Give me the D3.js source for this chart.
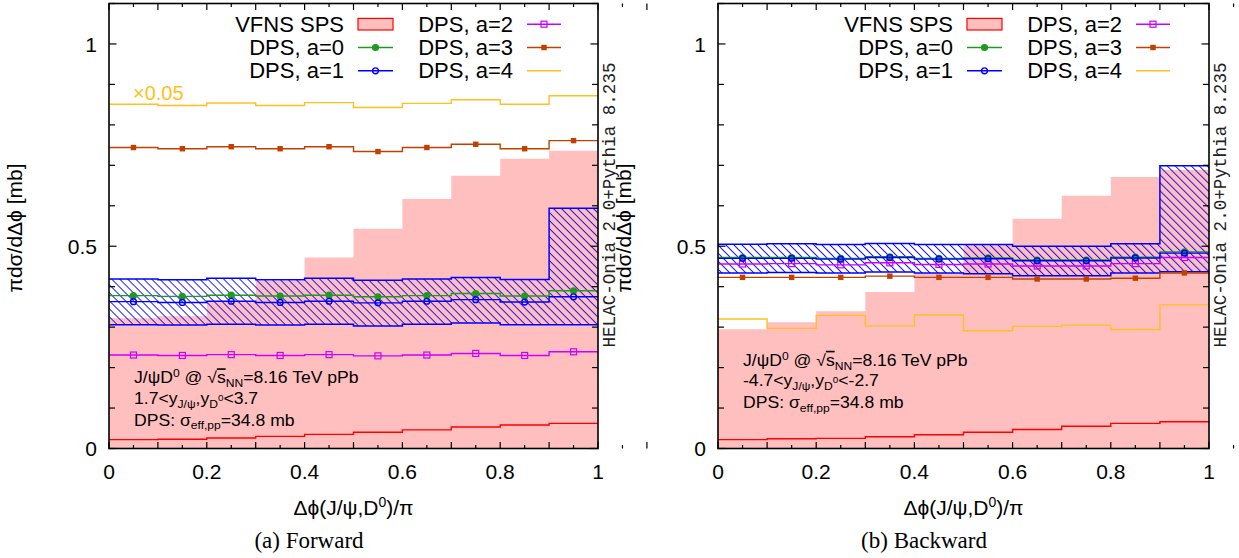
<!DOCTYPE html>
<html><head><meta charset="utf-8">
<script src="https://cdn.jsdelivr.net/npm/d3@7"></script>
<style>
html,body{margin:0;padding:0;background:#fff;}
svg text{font-family:"Liberation Sans",Arial,Helvetica,sans-serif;fill:#000;}
</style></head>
<body><svg id="chart" width="1239" height="558"></svg>
<script>
// ---- data ----
const binEdges = [0,0.1,0.2,0.3,0.4,0.5,0.6,0.7,0.8,0.9,1.0];
const xTickLabels = [0,0.2,0.4,0.6,0.8,1];
const yTickLabels = [0,0.5,1];

// Forward
const fwdSPS  = [0.322,0.327,0.364,0.414,0.472,0.543,0.617,0.674,0.716,0.736];
const fwdRed  = [0.022,0.023,0.026,0.030,0.035,0.040,0.046,0.053,0.058,0.062];
const fwdA0   = [0.378,0.376,0.379,0.377,0.379,0.375,0.378,0.383,0.377,0.390];
const fwdA1   = [0.363,0.361,0.364,0.361,0.364,0.360,0.364,0.368,0.362,0.375];
const fwdA1Up = [0.419,0.417,0.421,0.417,0.421,0.416,0.419,0.423,0.418,0.594];
const fwdA1Lo = [0.306,0.305,0.307,0.305,0.307,0.303,0.307,0.310,0.306,0.306];
const fwdA2   = [0.231,0.230,0.232,0.230,0.232,0.229,0.231,0.235,0.230,0.239];
const fwdA3   = [0.744,0.741,0.746,0.741,0.746,0.734,0.744,0.752,0.741,0.761];
const fwdA4   = [0.851,0.848,0.854,0.848,0.855,0.843,0.853,0.862,0.851,0.872];

// Backward
const bwdSPS  = [0.295,0.312,0.339,0.387,0.433,0.503,0.568,0.625,0.671,0.689];
const bwdRed  = [0.022,0.024,0.025,0.029,0.034,0.040,0.047,0.055,0.062,0.066];
const bwdA0   = [0.472,0.472,0.470,0.474,0.470,0.471,0.466,0.466,0.473,0.486];
const bwdA1   = [0.470,0.470,0.468,0.472,0.468,0.469,0.464,0.464,0.471,0.483];
const bwdA1Up = [0.505,0.506,0.504,0.507,0.504,0.504,0.500,0.500,0.506,0.699];
const bwdA1Lo = [0.434,0.435,0.434,0.436,0.434,0.432,0.427,0.427,0.434,0.437];
const bwdA2   = [0.456,0.457,0.454,0.459,0.455,0.456,0.451,0.451,0.457,0.472];
const bwdA3   = [0.423,0.423,0.423,0.426,0.423,0.423,0.419,0.419,0.421,0.434];
const bwdA4   = [0.320,0.297,0.329,0.303,0.330,0.291,0.302,0.305,0.294,0.355];

const legendLabels = ["VFNS SPS","DPS, a=0","DPS, a=1","DPS, a=2","DPS, a=3","DPS, a=4"];

// ---- styles ----
const C = {pink:"#ffbfbf", red:"#ff0000", green:"#1f9a1f", blue:"#0000ff",
           mag:"#cc00ff", dorange:"#c04000", orange:"#ffc020"};

const svg = d3.select("#chart");
const defs = svg.append("defs");
const pat = defs.append("pattern").attr("id","hatch").attr("patternUnits","userSpaceOnUse")
  .attr("width",5.66).attr("height",10).attr("patternTransform","rotate(-45)");
pat.append("line").attr("x1",0.5).attr("y1",0).attr("x2",0.5).attr("y2",10)
  .attr("stroke",C.blue).attr("stroke-width",0.9);

const panels = [
  {id:"f", left:109, right:598, SPS:fwdSPS, red:fwdRed, a0:fwdA0, a1:fwdA1, up:fwdA1Up, lo:fwdA1Lo, a2:fwdA2, a3:fwdA3, a4:fwdA4,
   caption:"(a) Forward", capX:309, fwd:true},
  {id:"b", left:718, right:1209, SPS:bwdSPS, red:bwdRed, a0:bwdA0, a1:bwdA1, up:bwdA1Up, lo:bwdA1Lo, a2:bwdA2, a3:bwdA3, a4:bwdA4,
   caption:"(b) Backward", capX:924, fwd:false}
];
const TOP = 3.5, BOT = 448.5;

function stepPts(vals){ const p=[]; vals.forEach((v,i)=>{p.push([binEdges[i],v]);p.push([binEdges[i+1],v]);}); return p; }
function bandPts(lo,hi){ const p=[]; lo.forEach((v,i)=>{p.push([binEdges[i],v,hi[i]]);p.push([binEdges[i+1],v,hi[i]]);}); return p; }
const centers = binEdges.slice(0,-1).map((e,i)=>(e+binEdges[i+1])/2);

panels.forEach(P=>{
  const x = d3.scaleLinear().domain([0,1]).range([P.left,P.right]);
  const y = d3.scaleLinear().domain([0,1.1]).range([BOT,TOP]);
  const g = svg.append("g");
  defs.append("clipPath").attr("id","clip"+P.id).append("rect")
    .attr("x",P.left).attr("y",TOP).attr("width",P.right-P.left).attr("height",BOT-TOP);
  const pg = g.append("g").attr("clip-path",`url(#clip${P.id})`);
  const line = d3.line().x(d=>x(d[0])).y(d=>y(d[1]));

  // SPS fill
  pg.append("path").datum(stepPts(P.SPS))
    .attr("d", d3.area().x(d=>x(d[0])).y0(y(0)).y1(d=>y(d[1])))
    .attr("fill",C.pink).attr("stroke","none");
  // red line
  pg.append("path").datum(stepPts(P.red)).attr("d",line).attr("fill","none").attr("stroke",C.red).attr("stroke-width",1.4);
  // hatched band
  const bp = bandPts(P.lo,P.up);
  pg.append("path").datum(bp).attr("d", d3.area().x(d=>x(d[0])).y0(d=>y(d[1])).y1(d=>y(d[2])))
    .attr("fill","url(#hatch)").attr("stroke","none");
  pg.append("path").datum(stepPts(P.up)).attr("d",line).attr("fill","none").attr("stroke",C.blue).attr("stroke-width",1.5);
  pg.append("path").datum(stepPts(P.lo)).attr("d",line).attr("fill","none").attr("stroke",C.blue).attr("stroke-width",1.5);

  // series lines
  const series = [
    {v:P.a4,c:C.orange,m:null},
    {v:P.a3,c:C.dorange,m:"fsq"},
    {v:P.a2,c:C.mag,m:"osq"},
    {v:P.a0,c:C.green,m:"fci"},
    {v:P.a1,c:C.blue,m:"oci"}
  ];
  series.forEach(s=>{
    pg.append("path").datum(stepPts(s.v)).attr("d",line).attr("fill","none").attr("stroke",s.c).attr("stroke-width",1.4);
    if(s.m) drawMarkers(pg, s.v.map((v,i)=>[x(centers[i]),y(v)]), s.m, s.c);
  });

  // ticks (inward, mirrored)
  const tk = g.append("g").attr("stroke","#000").attr("stroke-width",1.2);
  d3.range(0,1.1001,0.05).forEach(t=>{
    const major = Math.abs(t*10-Math.round(t*10))<1e-6;
    const L = major?6.5:3.5;
    tk.append("line").attr("x1",x(t)).attr("x2",x(t)).attr("y1",BOT).attr("y2",BOT-L);
    tk.append("line").attr("x1",x(t)).attr("x2",x(t)).attr("y1",TOP).attr("y2",TOP+L);
  });
  d3.range(0,1.1001,0.1).forEach(t=>{
    const major = Math.abs(t*2-Math.round(t*2))<1e-6;
    const L = major?7.5:6;
    tk.append("line").attr("x1",P.left).attr("x2",P.left+L).attr("y1",y(t)).attr("y2",y(t));
    tk.append("line").attr("x1",P.right).attr("x2",P.right-L).attr("y1",y(t)).attr("y2",y(t));
  });
  // frame
  g.append("rect").attr("x",P.left).attr("y",TOP).attr("width",P.right-P.left).attr("height",BOT-TOP)
    .attr("fill","none").attr("stroke","#000").attr("stroke-width",1.6);

  // tick labels
  xTickLabels.forEach(t=>{
    g.append("text").attr("x",x(t)).attr("y",478.5).attr("text-anchor","middle").attr("font-size",21).text(d3.format("")(t));
  });
  yTickLabels.forEach(t=>{
    g.append("text").attr("x",P.left-12).attr("y",y(t)).attr("dy","0.36em").attr("text-anchor","end").attr("font-size",21).text(t);
  });

  // y label
  g.append("text").attr("transform",`translate(${P.left-87},228) rotate(-90)`).attr("text-anchor","middle")
    .attr("font-size",21).text("πdσ/dΔϕ [mb]");
  // x label
  const xl = g.append("text").attr("x",(P.left+P.right)/2).attr("y",515).attr("text-anchor","middle").attr("font-size",21);
  xl.append("tspan").text("Δϕ(J/ψ,D");
  xl.append("tspan").attr("dy",-8).attr("font-size",14).text("0");
  xl.append("tspan").attr("dy",8).text(")/π");
  // caption
  g.append("text").attr("x",P.capX).attr("y",548).attr("text-anchor","middle")
    .style("font-family",'"Liberation Serif","Times New Roman",serif').attr("font-size",23).text(P.caption);
  // HELAC label
  g.append("text").attr("transform",`translate(${P.right+17},205) rotate(-90)`).attr("text-anchor","middle")
    .style("font-family",'"Liberation Mono","Courier New",monospace').attr("font-size",17.6).style("fill","#222")
    .text("HELAC-Onia 2.0+Pythia 8.235");

  // annotation
  const base = P.fwd ? 383.5 : 366;
  const ag = g.append("g").attr("transform",`translate(${P.left+25},0) scale(1.1,1)`);
  const fs = 16, ss = 11;
  const t1 = ag.append("text").attr("x",0).attr("y",base).attr("font-size",fs);
  t1.append("tspan").text("J/ψD");
  t1.append("tspan").attr("dy",-6).attr("font-size",ss).text("0");
  t1.append("tspan").attr("dy",6).text(" @ √");
  t1.append("tspan").style("text-decoration","overline").text("s");
  t1.append("tspan").attr("dy",4).attr("font-size",ss).text("NN");
  t1.append("tspan").attr("dy",-4).text("=8.16 TeV pPb");
  const t2 = ag.append("text").attr("x",0).attr("y",base+20.5).attr("font-size",fs);
  t2.append("tspan").text(P.fwd ? "1.7<y" : "-4.7<y");
  t2.append("tspan").attr("dy",4).attr("font-size",ss).text("J/ψ");
  t2.append("tspan").attr("dy",-4).text(",y");
  t2.append("tspan").attr("dy",4).attr("font-size",ss).text("D");
  t2.append("tspan").attr("dy",-7).attr("font-size",9).text("0");
  t2.append("tspan").attr("dy",3).text(P.fwd ? "<3.7" : "<-2.7");
  const t3 = ag.append("text").attr("x",0).attr("y",base+42).attr("font-size",fs);
  t3.append("tspan").text("DPS: σ");
  t3.append("tspan").attr("dy",4).attr("font-size",ss).text("eff,pp");
  t3.append("tspan").attr("dy",-4).text("=34.8 mb");

  if(P.fwd){
    g.append("text").attr("x",P.left+24).attr("y",99.5).attr("font-size",20).style("fill",C.orange).text("×0.05");
  }

  // legend
  const lg = g.append("g");
  const rowsY = [31.7,55,78.3];
  const cols = [{tx:P.left+235, s0:P.left+249, s1:P.left+284},{tx:P.left+404, s0:P.left+418, s1:P.left+452}];
  const items = [
    {lab:legendLabels[0],col:0,row:0,type:"box"},
    {lab:legendLabels[1],col:0,row:1,c:C.green,m:"fci"},
    {lab:legendLabels[2],col:0,row:2,c:C.blue,m:"oci"},
    {lab:legendLabels[3],col:1,row:0,c:C.mag,m:"osq"},
    {lab:legendLabels[4],col:1,row:1,c:C.dorange,m:"fsq"},
    {lab:legendLabels[5],col:1,row:2,c:C.orange,m:null}
  ];
  items.forEach(it=>{
    const cc = cols[it.col], by = rowsY[it.row], my = by-7.5;
    lg.append("text").attr("x",cc.tx).attr("y",by).attr("text-anchor","end").attr("font-size",22).text(it.lab);
    if(it.type==="box"){
      lg.append("rect").attr("x",cc.s0).attr("y",my-5.8).attr("width",cc.s1-cc.s0).attr("height",11.6)
        .attr("fill",C.pink).attr("stroke",C.red).attr("stroke-width",1.2);
    } else {
      lg.append("line").attr("x1",cc.s0).attr("x2",cc.s1).attr("y1",my).attr("y2",my).attr("stroke",it.c).attr("stroke-width",1.5);
      if(it.m) drawMarkers(lg, [[(cc.s0+cc.s1)/2,my]], it.m, it.c);
    }
  });
});

function drawMarkers(sel, pts, type, color){
  pts.forEach(([px,py])=>{
    if(type==="fci") sel.append("circle").attr("cx",px).attr("cy",py).attr("r",3.6).attr("fill",color);
    else if(type==="oci") sel.append("circle").attr("cx",px).attr("cy",py).attr("r",2.9).attr("fill","none").attr("stroke",color).attr("stroke-width",1.4);
    else if(type==="osq") sel.append("rect").attr("x",px-3).attr("y",py-3).attr("width",6).attr("height",6).attr("fill","none").attr("stroke",color).attr("stroke-width",1.2);
    else if(type==="fsq") sel.append("rect").attr("x",px-2.7).attr("y",py-2.7).attr("width",5.4).attr("height",5.4).attr("fill",color);
  });
}
</script></body></html>
